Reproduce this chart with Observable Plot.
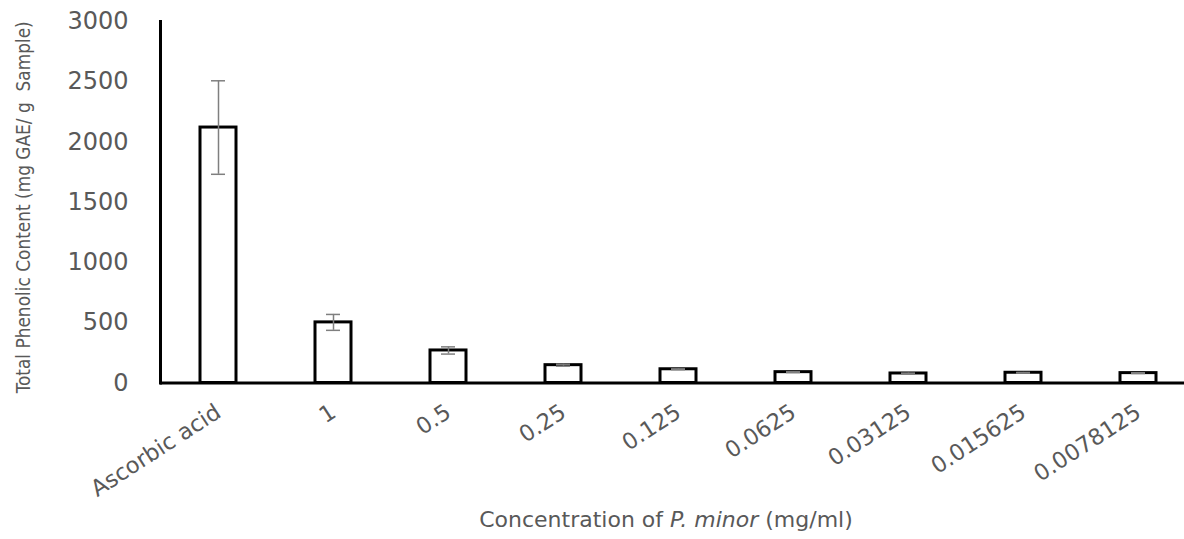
<!DOCTYPE html>
<html>
<head>
<meta charset="utf-8">
<script src="https://cdn.jsdelivr.net/npm/d3@7"></script>
<script src="https://cdn.jsdelivr.net/npm/@observablehq/plot@0.6"></script>
<style>
  html, body { margin: 0; padding: 0; background: #fff; }
  #wrap { position: relative; width: 1184px; height: 539px; overflow: hidden; }
  #xtitle { position: absolute; left: 666px; top: 505px; transform: translateX(-50%);
    white-space: nowrap; font-family: "DejaVu Sans", sans-serif; font-size: 22px;
    line-height: 30px; color: #595959; }
</style>
</head>
<body>
<div id="wrap"><div id="chart"></div><div id="xtitle">Concentration of <i>P. minor</i> (mg/ml)</div></div>
<script>
const categories = ["Ascorbic acid", "1", "0.5", "0.25", "0.125", "0.0625", "0.03125", "0.015625", "0.0078125"];
const values = [2120, 503, 270, 148, 114, 90, 79, 85, 82];
const errors = [388, 66, 30, 8, 3, 3, 3, 3, 3];
const yTicks = [0, 500, 1000, 1500, 2000, 2500, 3000];
const yTitle = "Total Phenolic Content (mg GAE/ g  Sample)";

const data = categories.map((c, i) => ({cat: c, v: values[i], lo: values[i] - errors[i], hi: values[i] + errors[i]}));

const chart = Plot.plot({
  width: 1184,
  height: 505,
  marginLeft: 160,
  marginRight: 0,
  marginTop: 21,
  marginBottom: 122.5,
  style: {background: "#fff"},
  x: {domain: categories, range: [160, 1195], paddingInner: 0.69, paddingOuter: 0.345},
  y: {domain: [0, 3000], range: [382.5, 21]},
  marks: [
    Plot.barY(data, {x: "cat", y: "v", fill: "white", stroke: "black", strokeWidth: 3}),
    Plot.ruleX(data, {x: "cat", y1: "lo", y2: "hi", stroke: "#7f7f7f", strokeWidth: 1.5}),
    Plot.tickY(data, {x: "cat", y: "hi", stroke: "#7f7f7f", strokeWidth: 1.5, insetLeft: 11, insetRight: 11}),
    Plot.tickY(data, {x: "cat", y: "lo", stroke: "#7f7f7f", strokeWidth: 1.5, insetLeft: 11, insetRight: 11}),
    Plot.ruleY([0], {stroke: "black", strokeWidth: 3}),
    Plot.frame({anchor: "left", stroke: "black", strokeWidth: 3}),
    Plot.axisY({ticks: yTicks, tickFormat: d3.format("d"), tickSize: 0, tickPadding: 32, label: null, fontSize: 24, fontFamily: "DejaVu Sans", fill: "#595959"}),
    Plot.axisX({tickSize: 0, tickPadding: 27, tickRotate: -33, dx: 0, label: null, fontSize: 22.5, fontFamily: "DejaVu Sans", fill: "#595959"}),
    Plot.text([yTitle], {frameAnchor: "left", textAnchor: "middle", dx: -137, dy: 5, rotate: -90, fontSize: 20,
      fontFamily: "Liberation Sans Narrow, DejaVu Sans Condensed, Liberation Sans", fill: "#595959",
      className: "ytitle"})
  ]
});
const yt = chart.querySelector(".ytitle text");
if (yt) { yt.setAttribute("textLength", "372"); yt.setAttribute("lengthAdjust", "spacingAndGlyphs"); }
document.getElementById("chart").appendChild(chart);
</script>
</body>
</html>
